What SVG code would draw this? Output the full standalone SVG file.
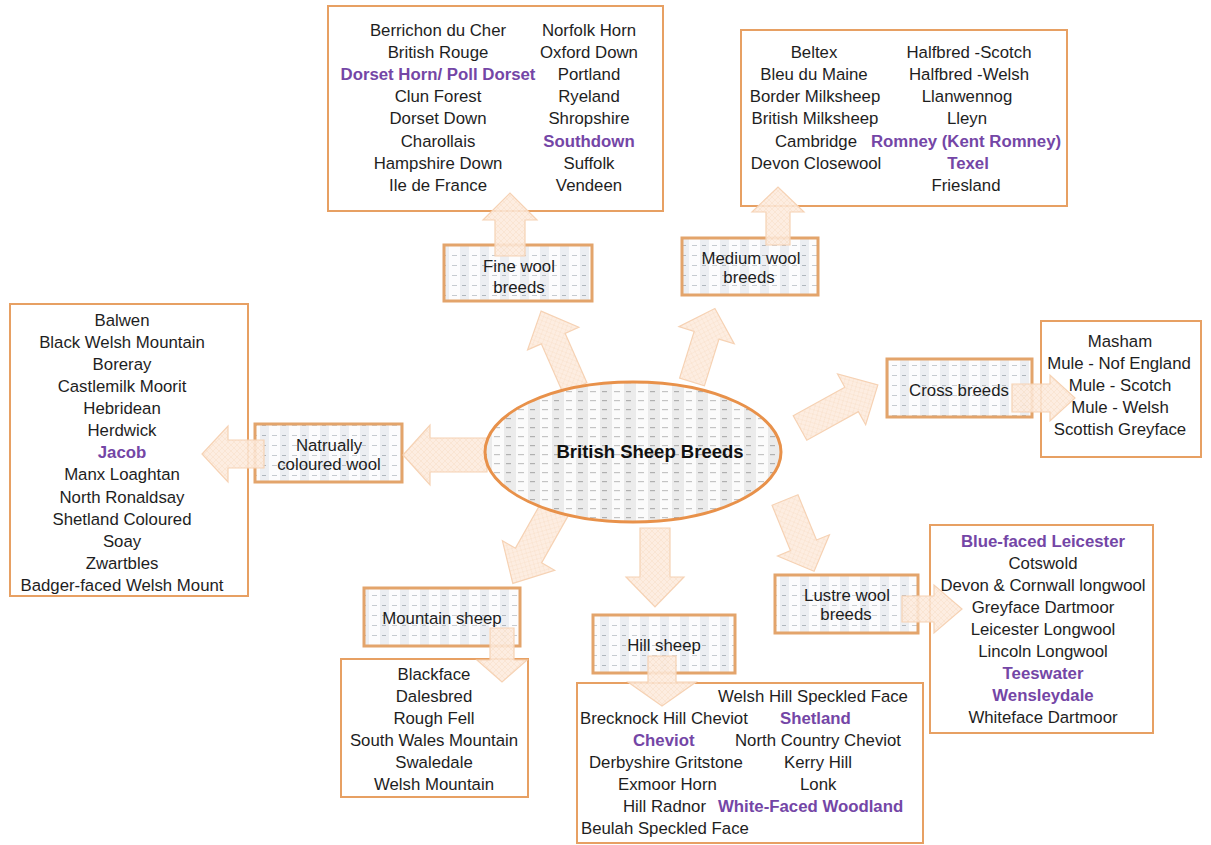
<svg xmlns="http://www.w3.org/2000/svg" width="1211" height="845" viewBox="0 0 1211 845">
<defs>
<pattern id="ptE" width="24" height="9" patternUnits="userSpaceOnUse">
<rect width="24" height="9" fill="#fbfbfb"/>
<rect x="0" width="12" height="9" fill="#ebebeb"/>
<rect x="2" y="4" width="5" height="1.2" fill="#b0b0b0"/>
<rect x="14" y="4" width="6" height="1.2" fill="#c4c4c4"/>
</pattern>
<pattern id="ptC" width="20" height="10" patternUnits="userSpaceOnUse">
<rect width="20" height="10" fill="#fcfcfd"/>
<rect x="0" width="9" height="10" fill="#eceef2"/>
<rect x="2" y="5" width="4" height="1" fill="#b0b7be"/>
<rect x="12" y="5" width="5" height="1" fill="#c6cbd0"/>
</pattern>
<pattern id="ptA" width="6" height="6" patternUnits="userSpaceOnUse">
<rect width="6" height="6" fill="#fdebdd"/>
<path d="M0,0 L6,6 M6,0 L0,6" stroke="#f8dcc6" stroke-width="0.7"/>
</pattern>
</defs>
<style>
.lb{fill:#ffffff;stroke:#e7a063;stroke-width:2}
.cb{fill:url(#ptC);stroke:#e3a46b;stroke-width:3}
.ar{fill:url(#ptA);fill-opacity:0.88;stroke:#f6d2b4;stroke-width:1.2}
text{font-family:"Liberation Sans",Arial,sans-serif;font-size:16.8px;fill:#1e1e1e;text-anchor:middle}
.p{font-weight:bold;fill:#7446a6}
.s{text-anchor:start}
.h{font-weight:bold;font-size:18.5px;fill:#111}
</style>
<rect width="1211" height="845" fill="#ffffff"/>

<g id="fine-list">
<rect class="lb" x="328" y="6" width="335" height="205"/>
<text x="438" y="36">Berrichon du Cher</text>
<text x="438" y="58">British Rouge</text>
<text x="438" y="80" class="p">Dorset Horn/ Poll Dorset</text>
<text x="438" y="102">Clun Forest</text>
<text x="438" y="124">Dorset Down</text>
<text x="438" y="147">Charollais</text>
<text x="438" y="169">Hampshire Down</text>
<text x="438" y="191">Ile de France</text>
<text x="589" y="36">Norfolk Horn</text>
<text x="589" y="58">Oxford Down</text>
<text x="589" y="80">Portland</text>
<text x="589" y="102">Ryeland</text>
<text x="589" y="124">Shropshire</text>
<text x="589" y="147" class="p">Southdown</text>
<text x="589" y="169">Suffolk</text>
<text x="589" y="191">Vendeen</text>
</g>

<g id="medium-list">
<rect class="lb" x="741" y="30" width="326" height="176"/>
<text x="814" y="58">Beltex</text>
<text x="814" y="80">Bleu du Maine</text>
<text x="815" y="102">Border Milksheep</text>
<text x="815" y="124">British Milksheep</text>
<text x="816" y="147">Cambridge</text>
<text x="816" y="169">Devon Closewool</text>
<text x="969" y="58">Halfbred -Scotch</text>
<text x="969" y="80">Halfbred -Welsh</text>
<text x="967" y="102">Llanwennog</text>
<text x="967" y="124">Lleyn</text>
<text x="966" y="147" class="p">Romney (Kent Romney)</text>
<text x="968" y="169" class="p">Texel</text>
<text x="966" y="191">Friesland</text>
</g>

<g id="natural-list">
<rect class="lb" x="10" y="304" width="238" height="292"/>
<text x="122" y="326">Balwen</text>
<text x="122" y="348">Black Welsh Mountain</text>
<text x="122" y="370">Boreray</text>
<text x="122" y="392">Castlemilk Moorit</text>
<text x="122" y="414">Hebridean</text>
<text x="122" y="436">Herdwick</text>
<text x="122" y="458" class="p">Jacob</text>
<text x="122" y="480">Manx Loaghtan</text>
<text x="122" y="503">North Ronaldsay</text>
<text x="122" y="525">Shetland Coloured</text>
<text x="122" y="547">Soay</text>
<text x="122" y="569">Zwartbles</text>
<text x="122" y="591">Badger-faced Welsh Mount</text>
</g>

<g id="cross-list">
<rect class="lb" x="1041" y="321" width="160" height="136"/>
<text x="1120" y="347">Masham</text>
<text x="1119" y="369">Mule - Nof England</text>
<text x="1120" y="391">Mule - Scotch</text>
<text x="1120" y="413">Mule - Welsh</text>
<text x="1120" y="435">Scottish Greyface</text>
</g>

<g id="lustre-list">
<rect class="lb" x="930" y="525" width="223" height="208"/>
<text x="1043" y="547" class="p">Blue-faced Leicester</text>
<text x="1043" y="569">Cotswold</text>
<text x="1043" y="591">Devon &amp; Cornwall longwool</text>
<text x="1043" y="613">Greyface Dartmoor</text>
<text x="1043" y="635">Leicester Longwool</text>
<text x="1043" y="657">Lincoln Longwool</text>
<text x="1043" y="679" class="p">Teeswater</text>
<text x="1043" y="701" class="p">Wensleydale</text>
<text x="1043" y="723">Whiteface Dartmoor</text>
</g>

<g id="mountain-list">
<rect class="lb" x="341" y="659" width="187" height="138"/>
<text x="434" y="680">Blackface</text>
<text x="434" y="702">Dalesbred</text>
<text x="434" y="724">Rough Fell</text>
<text x="434" y="746">South Wales Mountain</text>
<text x="434" y="768">Swaledale</text>
<text x="434" y="790">Welsh Mountain</text>
</g>

<g id="hill-list">
<rect class="lb" x="577" y="683" width="346" height="160"/>
<text class="s" x="718" y="702">Welsh Hill Speckled Face</text>
<text class="s" x="580" y="724">Brecknock Hill Cheviot</text>
<text class="s p" x="780" y="724">Shetland</text>
<text class="s p" x="633" y="746">Cheviot</text>
<text class="s" x="735" y="746">North Country Cheviot</text>
<text class="s" x="589" y="768">Derbyshire Gritstone</text>
<text class="s" x="784" y="768">Kerry Hill</text>
<text class="s" x="618" y="790">Exmoor Horn</text>
<text class="s" x="800" y="790">Lonk</text>
<text class="s" x="623" y="812">Hill Radnor</text>
<text class="s p" x="718" y="812">White-Faced Woodland</text>
<text class="s" x="581" y="834">Beulah Speckled Face</text>
</g>

<g id="fine-cat">
<rect class="cb" x="444" y="245" width="148" height="56"/>
<text x="519" y="272">Fine wool</text>
<text x="519" y="293">breeds</text>
</g>
<g id="medium-cat">
<rect class="cb" x="682" y="238" width="136" height="57"/>
<text x="751" y="264">Medium wool</text>
<text x="749" y="283">breeds</text>
</g>
<g id="cross-cat">
<rect class="cb" x="887" y="359" width="145" height="58"/>
<text x="959" y="396">Cross breeds</text>
</g>
<g id="natural-cat">
<rect class="cb" x="255" y="424" width="147" height="58"/>
<text x="329" y="451">Natrually</text>
<text x="329" y="470">coloured wool</text>
</g>
<g id="mountain-cat">
<rect class="cb" x="364" y="588" width="156" height="58"/>
<text x="442" y="624">Mountain sheep</text>
</g>
<g id="hill-cat">
<rect class="cb" x="593" y="615" width="142" height="58"/>
<text x="664" y="651">Hill sheep</text>
</g>
<g id="lustre-cat">
<rect class="cb" x="775" y="575" width="143" height="58"/>
<text x="847" y="601">Lustre wool</text>
<text x="846" y="620">breeds</text>
</g>

<g id="connectors">
<path class="ar" transform="translate(575,388) rotate(-113.8)" d="M0,-13 L54,-13 L54,-28 L84,0 L54,28 L54,13 L0,13Z"/>
<path class="ar" transform="translate(692,382) rotate(-72.7)" d="M0,-13 L49,-13 L49,-29 L77,0 L49,29 L49,13 L0,13Z"/>
<path class="ar" transform="translate(800,428) rotate(-29)" d="M0,-14 L59,-14 L59,-29 L89,0 L59,29 L59,14 L0,14Z"/>
<path class="ar" transform="translate(487,455) rotate(180)" d="M0,-17 L57,-17 L57,-30 L84,0 L57,30 L57,17 L0,17Z"/>
<path class="ar" transform="translate(557,505) rotate(119.4)" d="M0,-15 L58,-15 L58,-30 L90,0 L58,30 L58,15 L0,15Z"/>
<path class="ar" transform="translate(655,528) rotate(90)" d="M0,-15 L49,-15 L49,-29 L79,0 L49,29 L49,15 L0,15Z"/>
<path class="ar" transform="translate(785,500) rotate(67.8)" d="M0,-14 L49,-14 L49,-28 L77,0 L49,28 L49,14 L0,14Z"/>
<path class="ar" transform="translate(510,256) rotate(-90)" d="M0,-15 L36,-15 L36,-27 L63,0 L36,27 L36,15 L0,15Z"/>
<path class="ar" transform="translate(778,245) rotate(-90)" d="M0,-12 L33,-12 L33,-26 L58,0 L33,26 L33,12 L0,12Z"/>
<path class="ar" transform="translate(1012,398)" d="M0,-14 L38,-14 L38,-23 L63,0 L38,23 L38,14 L0,14Z"/>
<path class="ar" transform="translate(264,454) rotate(180)" d="M0,-14 L36,-14 L36,-28 L62,0 L36,28 L36,14 L0,14Z"/>
<path class="ar" transform="translate(502,628) rotate(90)" d="M0,-12 L32,-12 L32,-25 L54,0 L32,25 L32,12 L0,12Z"/>
<path class="ar" transform="translate(662,656) rotate(90)" d="M0,-14 L26,-14 L26,-34 L50,0 L26,34 L26,14 L0,14Z"/>
<path class="ar" transform="translate(902,609)" d="M0,-13 L32,-13 L32,-24 L60,0 L32,24 L32,13 L0,13Z"/>
</g>

<g id="center">
<ellipse cx="633" cy="452" rx="148" ry="70" fill="url(#ptE)" stroke="#e8914a" stroke-width="3"/>
<text class="h" x="650" y="458">British Sheep Breeds</text>
</g>
</svg>
